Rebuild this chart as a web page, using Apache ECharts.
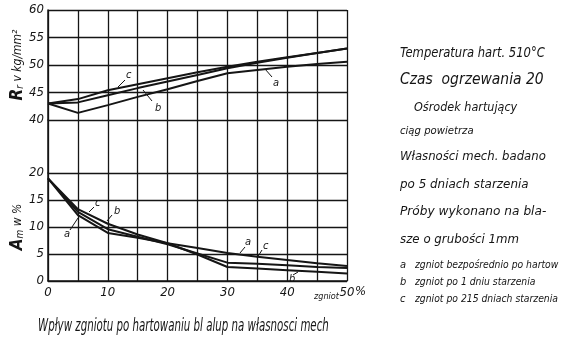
<!DOCTYPE html>
<html><head><meta charset="utf-8">
<script src="https://cdn.jsdelivr.net/npm/echarts@6/dist/echarts.min.js"></script>
<style>html,body{margin:0;padding:0;background:#fff}#c{width:566px;height:345px}</style>
</head><body><div id="c"></div>
<script>
// zgniot (%) – x values
const strain = [0, 5, 10, 15, 20, 25, 30, 35, 40, 45, 50];
// R_r w kg/mm² (upper chart)
const rA = [43, 41.3, 42.7, 44.2, 45.6, 47.1, 48.5, 49.1, 49.7, 50.2, 50.6];
const rB = [43, 43.2, 44.5, 45.8, 47.0, 48.2, 49.4, 50.4, 51.3, 52.2, 53.0];
const rC = [43, 43.8, 45.4, 46.5, 47.6, 48.7, 49.7, 50.6, 51.4, 52.2, 53.0];
// A_m w % (lower chart)
const aA = [19, 12.2, 8.9, 8.0, 7.0, 6.1, 5.2, 4.5, 3.9, 3.3, 2.8];
const aB = [19, 13.3, 10.6, 8.6, 7.0, 4.9, 2.6, 2.3, 2.0, 1.7, 1.4];
const aC = [19, 12.8, 9.6, 8.2, 6.8, 5.1, 3.4, 3.2, 2.9, 2.6, 2.4];
// tick labels
const xTickLabels = ['0', '10', '20', '30', '40', '50'];
const sideText = [
  'Temperatura hart. 510°C',
  'Czas  ogrzewania 20',
  'Ośrodek hartujący',
  'ciąg powietrza',
  'Własności mech. badano',
  'po 5 dniach starzenia',
  'Próby wykonano na bla-',
  'sze o grubości 1mm'
];
const legendKeys = ['a', 'b', 'c'];
const legendText = ['zgniot bezpośrednio po hartow', 'zgniot po 1 dniu starzenia', 'zgniot po 215 dniach starzenia'];
const caption = 'Wpływ zgniotu po hartowaniu bl alup na własnosci mech';

const FF = '"Liberation Sans Narrow","DejaVu Sans Condensed","Arial Narrow","Liberation Sans",sans-serif';
const INK = '#151515';
const pair = arr => strain.map((x, i) => [x, arr[i]]);

const chart = echarts.init(document.getElementById('c'), null, {renderer: 'canvas'});

const gridLine = {show: true, lineStyle: {color: INK, width: 1.3}};
function xAx(gi, labels) {
  return {
    type: 'value', gridIndex: gi, min: 0, max: 50, interval: 5,
    axisLine: {show: gi === 2, lineStyle: {color: INK, width: 1.5}},
    axisTick: {show: false},
    splitLine: gridLine,
    axisLabel: labels ? {
      show: true, color: INK, fontStyle: 'italic', fontSize: 13, fontFamily: FF, margin: 5,
      formatter: v => (v % 10 === 0 ? xTickLabels[v / 10] : '')
    } : {show: false}
  };
}
function yAx(gi, min, max, show, name) {
  return {
    type: 'value', gridIndex: gi, min: min, max: max, interval: 5,
    axisLine: {show: true, lineStyle: {color: INK, width: 1.5}},
    axisTick: {show: false},
    splitLine: show ? gridLine : {show: false},
    axisLabel: show ? {color: INK, fontStyle: 'italic', fontSize: 13, fontFamily: FF, margin: 4} : {show: false},
    name: name || '',
    nameLocation: 'middle', nameRotate: 90, nameGap: 22, nameMoveOverlap: false,
    nameTextStyle: {
      color: INK, fontFamily: FF, fontStyle: 'italic', fontSize: 12,
      rich: {
        b: {fontSize: 17, fontStyle: 'italic', fontFamily: FF, color: INK, fontWeight: 'bold'},
        s: {fontSize: 10, fontStyle: 'italic', fontFamily: FF, color: INK, padding: [6, 0, 0, 0]},
        t: {fontSize: 12, fontStyle: 'italic', fontFamily: FF, color: INK}
      }
    }
  };
}
function ln(xi, arr) {
  return {
    type: 'line', xAxisIndex: xi, yAxisIndex: xi, data: pair(arr),
    symbol: 'none', smooth: false, silent: true,
    lineStyle: {color: INK, width: 2}
  };
}

const graphics = [];
const txt = (x, y, t, size, sx) => graphics.push({
  type: 'text', x: x, y: y, scaleX: sx || 1,
  style: {text: t, font: 'italic ' + size + 'px ' + FF, fill: INK, verticalAlign: 'middle', align: 'left'}
});
const seg = (x1, y1, x2, y2) => graphics.push({
  type: 'line', shape: {x1: x1, y1: y1, x2: x2, y2: y2}, style: {stroke: INK, lineWidth: 1}
});

// side text block
const sideY = [53, 80, 108, 131, 157, 185, 212, 240];
const sideSize = [14, 15, 13, 11, 13, 13, 13, 13];
const sideScale = [0.92, 1.03, 0.96, 1.02, 1.0, 1.02, 1.04, 1.01];
const sideX = [400, 400, 414, 400, 400, 400, 400, 400];
sideText.forEach((t, i) => txt(sideX[i], sideY[i], t, sideSize[i], sideScale[i]));
const legY = [265, 282, 299];
legendKeys.forEach((k, i) => {
  txt(400, legY[i], k, 11);
  txt(415, legY[i], legendText[i], 10.5, 0.98);
});
// caption and axis words
txt(38, 327, caption, 17, 0.67);
txt(314, 297, 'zgniot', 9);
txt(355, 292, '%', 13);

// line annotations (upper)
txt(126, 75, 'c', 11); seg(125, 80, 118, 87);
txt(155, 108, 'b', 11); seg(152, 101, 143, 90);
txt(273, 83, 'a', 11); seg(272, 77, 265, 69);
// line annotations (lower)
txt(64, 234, 'a', 11); seg(70, 230, 78, 218);
txt(95, 203, 'c', 11); seg(94, 207, 89, 212);
txt(114, 211, 'b', 11); seg(112, 215, 107, 221);
txt(245, 242, 'a', 11); seg(245, 247, 240, 253);
txt(263, 246, 'c', 11); seg(262, 250, 257, 258);
txt(289, 279, 'b', 11); seg(293, 275, 298, 272);

const g = (top, height) => ({left: 48, width: 299, top: top, height: height, containLabel: false, outerBoundsMode: 'none'});
chart.setOption({
  backgroundColor: '#fff',
  animation: false,
  grid: [g(10, 110), g(120, 53), g(173, 108)],
  xAxis: [xAx(0, false), xAx(1, false), xAx(2, true)],
  yAxis: [
    yAx(0, 40, 60, true, '{b|R}{s|r}{t| v kg/mm²}'),
    yAx(1, 0, 10, false),
    yAx(2, 0, 20, true, '{b|A}{s|m}{t| w %}')
  ],
  series: [
    ln(0, rA), ln(0, rB), ln(0, rC),
    ln(2, aA), ln(2, aB), ln(2, aC)
  ],
  graphic: graphics
});
</script></body></html>
